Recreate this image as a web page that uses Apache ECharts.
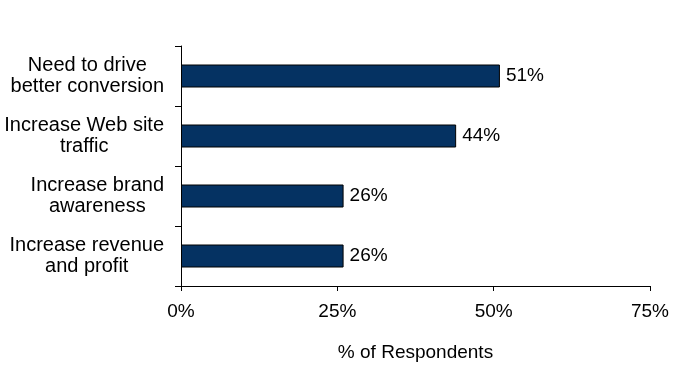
<!DOCTYPE html>
<html>
<head>
<meta charset="utf-8">
<script src="https://cdn.jsdelivr.net/npm/echarts@6/dist/echarts.min.js"></script>
<style>html,body{margin:0;padding:0;background:#fff;}#c{width:700px;height:375px;}</style>
</head>
<body>
<div id="c"></div>
<script>
var categories = ["Need to drive\nbetter conversion", "Increase Web site\ntraffic", "Increase brand\nawareness", "Increase revenue\nand profit"];
var values = [51, 44, 26, 26];
var xTicks = [0, 25, 50, 75];
var axisName = "% of Respondents";

var chart = echarts.init(document.getElementById('c'));
var FONT = '"Liberation Sans", Arial, sans-serif';
chart.setOption({
  animation: false,
  backgroundColor: '#fff',
  grid: {left: 181, right: 50, top: 46, bottom: 89},
  xAxis: {
    type: 'value',
    min: xTicks[0],
    max: xTicks[xTicks.length - 1],
    interval: xTicks[1] - xTicks[0],
    name: axisName,
    nameLocation: 'middle',
    nameGap: 57,
    nameTextStyle: {fontFamily: FONT, fontSize: 19, color: '#000'},
    axisLine: {show: true, lineStyle: {color: '#000', width: 1}},
    axisTick: {show: true, length: 5, lineStyle: {color: '#000'}},
    splitLine: {show: false},
    axisLabel: {formatter: '{value}%', fontFamily: FONT, fontSize: 19, color: '#000', margin: 16}
  },
  yAxis: {
    type: 'category',
    data: categories,
    inverse: true,
    axisLine: {show: true, lineStyle: {color: '#000', width: 1}},
    axisTick: {show: true, length: 6, lineStyle: {color: '#000'}},
    axisLabel: {
      margin: 17,
      formatter: function (v) {
        return v.split('\n').map(function (l) { return '{c|' + l + '}'; }).join('\n');
      },
      rich: {c: {align: 'center', fontFamily: FONT, fontSize: 20, lineHeight: 21, color: '#000'}}
    }
  },
  series: [{
    type: 'bar',
    data: values,
    barWidth: 23,
    itemStyle: {color: '#053262', borderColor: '#000', borderWidth: 1},
    label: {show: true, position: 'right', distance: 6, formatter: '{c}%', fontFamily: FONT, fontSize: 19, color: '#000'}
  }]
});
</script>
</body>
</html>
